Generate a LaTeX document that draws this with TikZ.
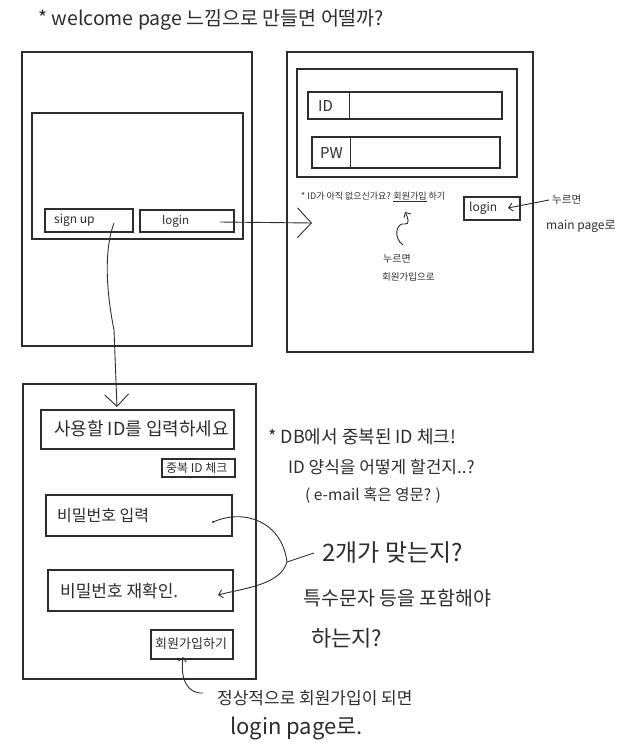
\documentclass[tikz,border=0pt]{standalone}
\usepackage{fontspec}
\setmainfont{Noto Sans CJK KR}
\usepackage{tikz}
\usetikzlibrary{arrows.meta,positioning}
\definecolor{ink}{RGB}{45,45,45}
\newcommand{\handsize}[1]{\fontsize{#1}{#1}\selectfont}

\begin{document}
\begin{tikzpicture}[
  x=1pt,y=-1pt,
  frame/.style={rectangle,draw=ink,line width=1.1pt,inner sep=0pt},
  note/.style={text=ink,inner sep=0pt,anchor=west},
  link/.style={draw=ink,line width=0.9pt},
]
\useasboundingbox (0,0) rectangle (629,753);

% Title
\node[note,font=\handsize{19.5}] (title) at (38,20) {* welcome page 느낌으로 만들면 어떨까?};

% Welcome page
\node[frame,minimum width=230,minimum height=294] (welcome) at (137,199) {};
\node[frame,minimum width=211,minimum height=126] (welcomeInner) at (137.5,176) {};
\node[frame,minimum width=88,minimum height=23] (signupBtn) at (89,220.5) {};
\node[frame,minimum width=94,minimum height=22] (loginBtn) at (187,221) {};
\node[note,font=\handsize{12}] (signupTxt) at (54,220) {sign up};
\node[note,font=\handsize{11.5}] (loginTxt) at (162,221) {login};

% Login page
\node[frame,minimum width=246,minimum height=300] (loginPage) at (410,202) {};
\node[frame,minimum width=220,minimum height=108] (loginInner) at (407,123) {};
\node[frame,minimum width=194,minimum height=27] (idField) at (405,105.5) {};
\node[frame,minimum width=188,minimum height=31] (pwField) at (406,152.5) {};
\draw[link] (349,92) -- (349,119);
\draw[link] (350,138) -- (350,167);
\node[note,font=\handsize{15}] (idLabel) at (318,105.5) {ID};
\node[note,font=\handsize{15}] (pwLabel) at (320,153) {PW};
\node[note,font=\handsize{9}] (noId) at (301,197) {* ID가 아직 없으신가요? \underline{회원가입} 하기};
\node[frame,minimum width=56,minimum height=23] (loginBtn2) at (492,208.5) {};
\node[note,font=\handsize{12}] (loginTxt2) at (469,208) {login};
\node[note,font=\handsize{10.5}] (mainNote) at (552,200) {누르면};
\node[note,font=\handsize{12}] (mainNote2) at (546,226) {main page로};
\node[note,font=\handsize{10}] (joinNote) at (383,259) {누르면};
\node[note,font=\handsize{9.5}] (joinNote2) at (382,277) {회원가입으로};

% Sign up page
\node[frame,minimum width=233,minimum height=295] (signupPage) at (139.5,531.5) {};
\node[frame,minimum width=193,minimum height=39] (idInput) at (137.5,429.5) {};
\node[frame,minimum width=73,minimum height=18] (dupCheck) at (198.5,468) {};
\node[frame,minimum width=186,minimum height=41] (pwInput) at (139,515.5) {};
\node[frame,minimum width=185,minimum height=41] (pwConfirm) at (140.5,590.5) {};
\node[frame,minimum width=82,minimum height=29] (joinBtn) at (192,644.5) {};
\node[note,font=\handsize{18}] (idInputTxt) at (54,429) {사용할 ID를 입력하세요};
\node[note,font=\handsize{12}] (dupCheckTxt) at (166,468) {중복 ID 체크};
\node[note,font=\handsize{16}] (pwInputTxt) at (57,516) {비밀번호 입력};
\node[note,font=\handsize{17}] (pwConfirmTxt) at (60,591) {비밀번호 재확인.};
\node[note,font=\handsize{13}] (joinBtnTxt) at (155,644) {회원가입하기};

% Notes on the right
\node[note,font=\handsize{18}] (dbNote) at (268,437) {* DB에서 중복된 ID 체크!};
\node[note,font=\handsize{17}] (formNote) at (288,467) {ID 양식을 어떻게 할건지..?};
\node[note,font=\handsize{15.5}] (formNote2) at (305,496) {( e-mail 혹은 영문? )};
\node[note,font=\handsize{24}] (matchNote) at (322,553) {2개가 맞는지?};
\node[note,font=\handsize{19.5}] (specialNote) at (303,598) {특수문자 등을 포함해야};
\node[note,font=\handsize{22}] (specialNote2) at (311,638) {하는지?};
\node[note,font=\handsize{17}] (doneNote) at (217,698) {정상적으로 회원가입이 되면};
\node[note,font=\handsize{22}] (doneNote2) at (230,728) {login page로.};

% Connectors
\coordinate (signupStart) at (114,223);
\coordinate (signupEnd) at (117,407);
\draw[link,-{Straight Barb[length=12pt,width=24pt]}] (signupStart) .. controls (104,250) and (106,290) .. (114,330) -- (signupEnd);

\coordinate (loginStart) at (220,222);
\coordinate (loginEnd) at (312,223);
\draw[link,-{Straight Barb[length=14pt,width=30pt]}] (loginStart) -- (loginEnd);

\coordinate (mainStart) at (549,200);
\coordinate (mainEnd) at (508,208);
\draw[link,-{Straight Barb[length=4pt,width=8pt]}] (mainStart) -- (mainEnd);

\coordinate (joinStart) at (403,245);
\coordinate (joinEnd) at (405,212);
\draw[link,-{Straight Barb[length=4pt,width=8pt]}] (joinStart) .. controls (393,238) and (396,222) .. (405,224) .. controls (410,225) and (408,217) .. (joinEnd);

\coordinate (pwDot) at (213,522);
\coordinate (pwcDot) at (218,595);
\coordinate (braceTip) at (287,562);
\fill[ink] (pwDot) circle (1.2);
\draw[link] (pwDot) .. controls (245,508) and (282,522) .. (braceTip);
\draw[link,-{Straight Barb[length=4pt,width=8pt]}] (braceTip) .. controls (280,585) and (245,588) .. (pwcDot);
\draw[link] (braceTip) -- ([xshift=-8pt]matchNote.west);

\coordinate (doneStart) at (203,693);
\coordinate (doneEnd) at (183,657);
\draw[link,-{Straight Barb[length=4pt,width=8pt]}] (doneStart) .. controls (188,694) and (180,680) .. (doneEnd);

\end{tikzpicture}
\end{document}
